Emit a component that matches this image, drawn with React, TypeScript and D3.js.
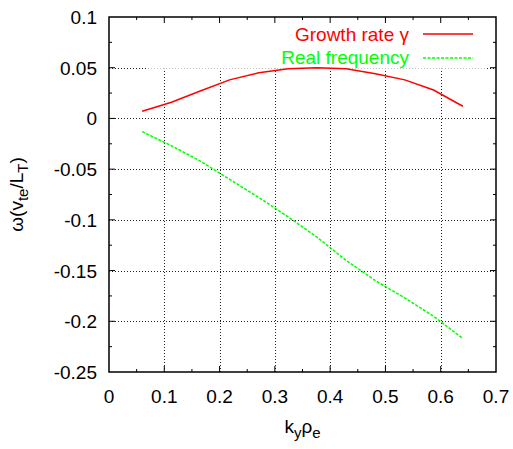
import { scaleLinear, line as d3_line, range } from "d3";

// k_y rho_e sample points and the two curves
const kyRho = [0.06, 0.113, 0.165, 0.218, 0.271, 0.324, 0.376, 0.429, 0.482, 0.535, 0.587, 0.64];
const growthRate = [0.007, 0.016, 0.027, 0.038, 0.045, 0.049, 0.05, 0.049, 0.044, 0.038, 0.028, 0.012];
const realFreq = [-0.013, -0.027, -0.042, -0.06, -0.078, -0.097, -0.117, -0.14, -0.16, -0.177, -0.195, -0.217];

const xTicks = [0, 0.1, 0.2, 0.3, 0.4, 0.5, 0.6, 0.7];
const yTicks = [-0.25, -0.2, -0.15, -0.1, -0.05, 0, 0.05, 0.1];
const seriesNames = ["Growth rate \u03b3", "Real frequency"];

const W = 513;
const H = 449;
const margin = { top: 17, right: 17, bottom: 77, left: 109 };
const font = "'Liberation Sans', Arial, Helvetica, sans-serif";

export default function App() {
  const x = scaleLinear().domain([0, 0.7]).range([margin.left, W - margin.right]);
  const y = scaleLinear().domain([-0.25, 0.1]).range([H - margin.bottom, margin.top]);
  const [x0, x1] = x.range();
  const [y0, y1] = y.range();

  const pts = (vals: number[]) => kyRho.map((k, i) => [k, vals[i]] as [number, number]);
  const line = d3_line<[number, number]>()
    .x((d) => x(d[0]))
    .y((d) => y(d[1]));

  const xMinor = range(0.05, 0.7, 0.1);
  const yMinor = range(-0.225, 0.1, 0.05);

  // key area covers the grid in the upper part of the plot
  const key = { x: 147, y: y1, w: 338, h: y(0.05) + 1 - y1 };

  return (
    <svg
      width={W}
      height={H}
      style={{ position: "absolute", left: 0, top: 0, background: "#fff" }}
      fontFamily={font}
    >
      {/* grid */}
      <g stroke="#222" strokeWidth={1} strokeDasharray="1,2">
        {xTicks.slice(1, -1).map((t) => (
          <line key={t} x1={Math.round(x(t)) + 0.5} x2={Math.round(x(t)) + 0.5} y1={y0} y2={y1} />
        ))}
        {yTicks.slice(1, -1).map((t) => (
          <line key={t} x1={x0} x2={x1} y1={Math.round(y(t)) + 0.5} y2={Math.round(y(t)) + 0.5} />
        ))}
      </g>
      <rect x={key.x} y={key.y} width={key.w} height={key.h} fill="#fff" />

      {/* frame + ticks (mirrored) */}
      <g stroke="#000" strokeWidth={1}>
        {xTicks.slice(1, -1).map((t) => (
          <g key={t}>
            <line x1={x(t)} x2={x(t)} y1={y0} y2={y0 - 6} />
            <line x1={x(t)} x2={x(t)} y1={y1} y2={y1 + 6} />
          </g>
        ))}
        {xMinor.map((t) => (
          <g key={t}>
            <line x1={x(t)} x2={x(t)} y1={y0} y2={y0 - 3} />
            <line x1={x(t)} x2={x(t)} y1={y1} y2={y1 + 3} />
          </g>
        ))}
        {yTicks.slice(1, -1).map((t) => (
          <g key={t}>
            <line x1={x0} x2={x0 + 6} y1={y(t)} y2={y(t)} />
            <line x1={x1} x2={x1 - 6} y1={y(t)} y2={y(t)} />
          </g>
        ))}
        {yMinor.map((t) => (
          <g key={t}>
            <line x1={x0} x2={x0 + 3} y1={y(t)} y2={y(t)} />
            <line x1={x1} x2={x1 - 3} y1={y(t)} y2={y(t)} />
          </g>
        ))}
      </g>
      <rect x={x0} y={y1} width={x1 - x0} height={y0 - y1} fill="none" stroke="#000" strokeWidth={1.5} />

      {/* tick labels */}
      <g fontSize={19} fill="#000">
        {yTicks.map((t) => (
          <text key={t} x={x0 - 12} y={y(t) + 7} textAnchor="end">
            {t === 0 ? "0" : String(t)}
          </text>
        ))}
        {xTicks.map((t) => (
          <text key={t} x={x(t)} y={y0 + 31} textAnchor="middle">
            {t === 0 ? "0" : String(t)}
          </text>
        ))}
      </g>

      {/* axis titles */}
      <text x={(x0 + x1) / 2} y={433} fontSize={19} textAnchor="middle">
        k<tspan fontSize={15} dy={5}>y</tspan>
        <tspan dy={-5}>ρ</tspan>
        <tspan fontSize={15} dy={5}>e</tspan>
      </text>
      <text
        transform={`translate(23,${(y0 + y1) / 2}) rotate(-90)`}
        fontSize={19}
        textAnchor="middle"
      >
        ω(v<tspan fontSize={15} dy={5}>te</tspan>
        <tspan dy={-5}>/L</tspan>
        <tspan fontSize={15} dy={5}>T</tspan>
        <tspan dy={-5}>)</tspan>
      </text>

      {/* curves */}
      <path d={line(pts(growthRate)) ?? ""} fill="none" stroke="#ff0000" strokeWidth={1.5} />
      <path
        d={line(pts(realFreq)) ?? ""}
        fill="none"
        stroke="#00ff00"
        strokeWidth={1.5}
        strokeDasharray="3,1.5"
      />

      {/* legend */}
      <g fontSize={19}>
        <text x={409} y={41} textAnchor="end" fill="#ff0000">{seriesNames[0]}</text>
        <line x1={423} x2={473} y1={34} y2={34} stroke="#ff0000" strokeWidth={1.5} />
        <text x={409} y={64} textAnchor="end" fill="#00ff00">{seriesNames[1]}</text>
        <line x1={423} x2={473} y1={58} y2={58} stroke="#00ff00" strokeWidth={1.5} strokeDasharray="3,1.5" />
      </g>
    </svg>
  );
}
